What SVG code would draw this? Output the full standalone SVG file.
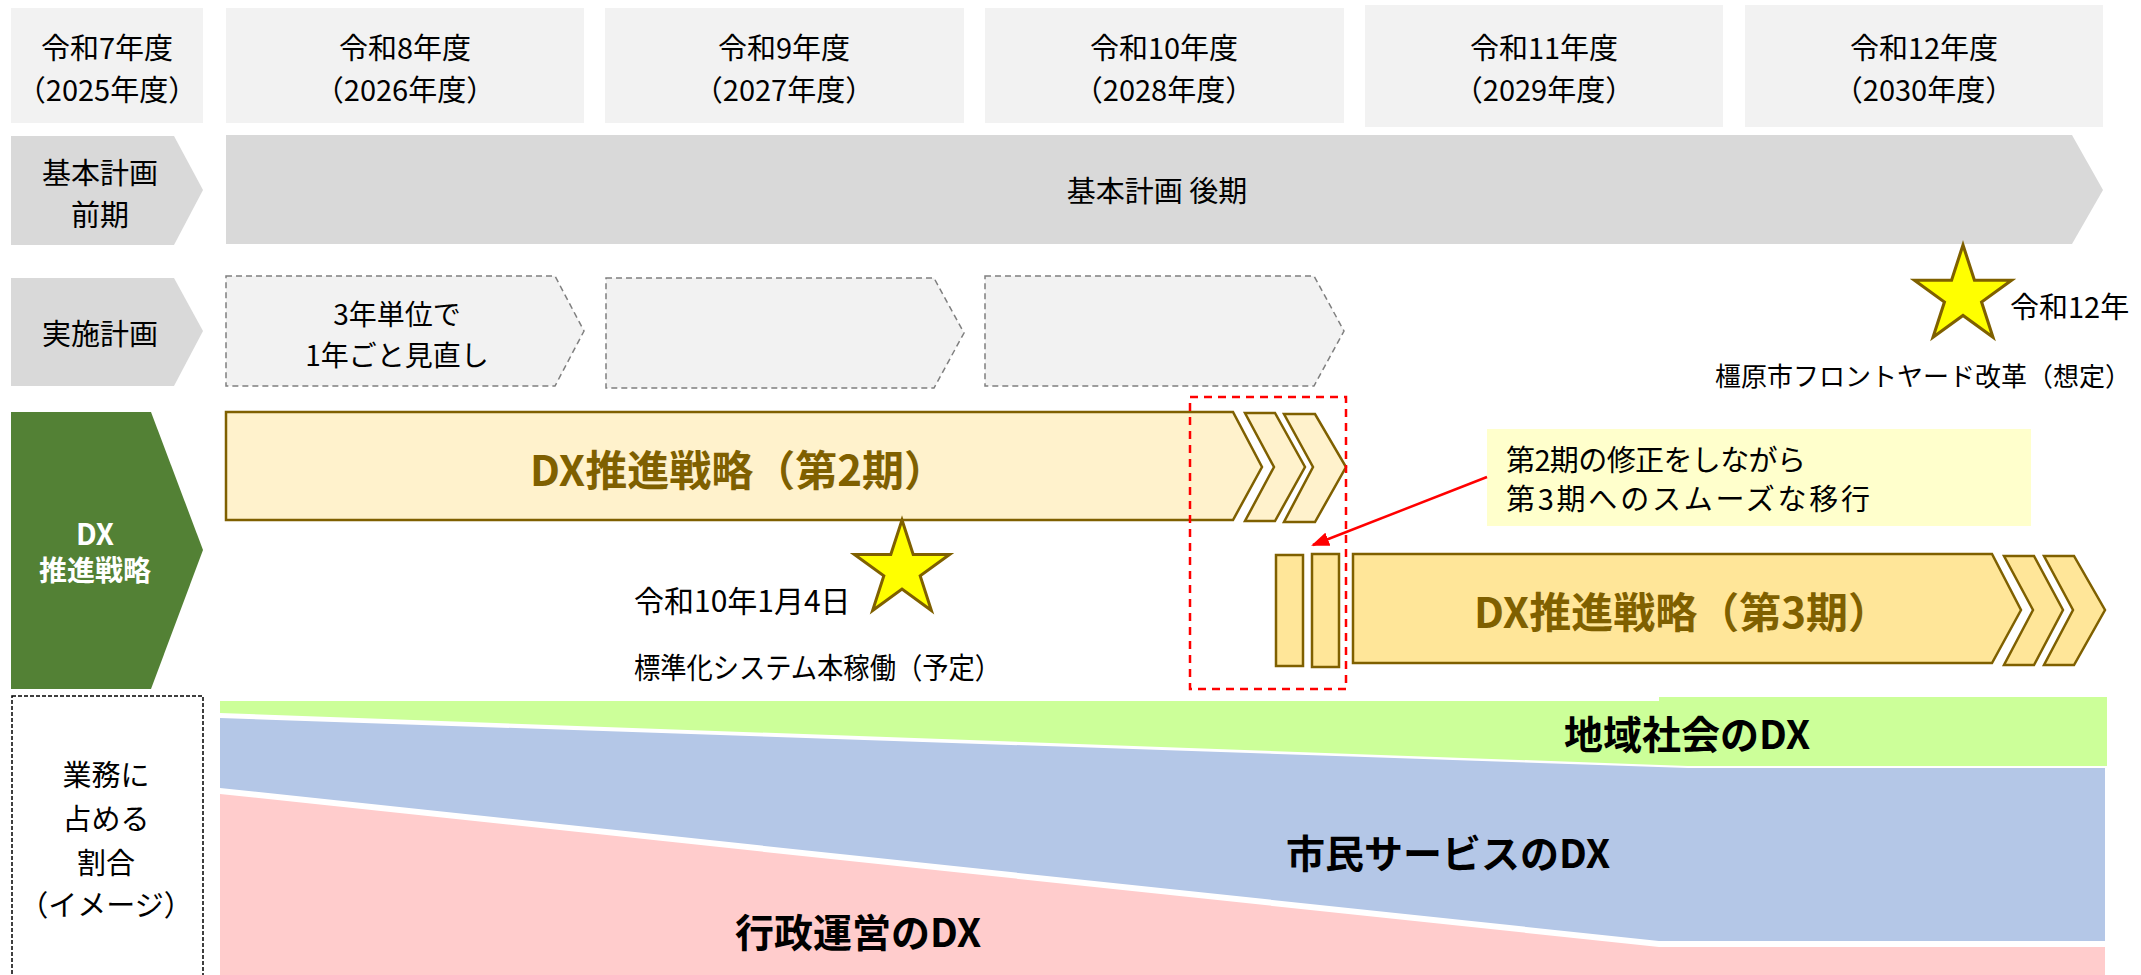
<svg xmlns="http://www.w3.org/2000/svg" xmlns:xlink="http://www.w3.org/1999/xlink" width="2141" height="975" viewBox="0 0 2141 975">
<style>
text{font-family:"Noto Sans CJK JP","Noto Sans",sans-serif;fill:#000;}
.t{font-size:29px;}
.s{font-size:28px;}
.c{text-anchor:middle;}
.b{font-weight:bold;}
.hdr{fill:#F2F2F2;}
.lbl{fill:#D9D9D9;}
.plan{fill:#F2F2F2;stroke:#7F7F7F;stroke-width:1.5;stroke-dasharray:6 4;}
.dx2{fill:#FFF2CC;stroke:#7F6000;stroke-width:2.5;}
.dx3{fill:#FFE699;stroke:#7F6000;stroke-width:2.5;}
.gold{fill:#7F6000;font-size:42px;font-weight:bold;}
.star{fill:#FFFF00;stroke:#7F6000;stroke-width:3;}
.big{font-size:39px;font-weight:bold;}
</style>
<defs>
<marker id="ah" markerWidth="18" markerHeight="14" refX="16" refY="7" orient="auto" markerUnits="userSpaceOnUse" viewBox="0 0 18 14">
<path d="M0,0 L18,7 L0,14 z" fill="#FF0000"/>
</marker>
<polygon id="starshape" points="0,-50 11.2,-15.5 47.6,-15.5 18.2,5.9 29.4,40.5 0,19.1 -29.4,40.5 -18.2,5.9 -47.6,-15.5 -11.2,-15.5"/>
</defs>

<g id="headers">
<rect class="hdr" x="11" y="8" width="192" height="115"/>
<rect class="hdr" x="226" y="8" width="358" height="115"/>
<rect class="hdr" x="605" y="8" width="359" height="115"/>
<rect class="hdr" x="985" y="8" width="359" height="115"/>
<rect class="hdr" x="1365" y="5" width="358" height="122"/>
<rect class="hdr" x="1745" y="5" width="358" height="122"/>
<text class="t c" y="59"><tspan x="107">令和7年度</tspan><tspan x="107" dy="42">（2025年度）</tspan></text>
<text class="t c" y="59"><tspan x="405">令和8年度</tspan><tspan x="405" dy="42">（2026年度）</tspan></text>
<text class="t c" y="59"><tspan x="784">令和9年度</tspan><tspan x="784" dy="42">（2027年度）</tspan></text>
<text class="t c" y="59"><tspan x="1164">令和10年度</tspan><tspan x="1164" dy="42">（2028年度）</tspan></text>
<text class="t c" y="59"><tspan x="1544">令和11年度</tspan><tspan x="1544" dy="42">（2029年度）</tspan></text>
<text class="t c" y="59"><tspan x="1924">令和12年度</tspan><tspan x="1924" dy="42">（2030年度）</tspan></text>
</g>

<g id="kihon-zenki">
<polygon class="lbl" points="11,136 174,136 203,190 174,245 11,245"/>
<text class="t c" y="184"><tspan x="100">基本計画</tspan><tspan x="100" dy="42">前期</tspan></text>
</g>

<g id="kihon-kouki">
<polygon class="lbl" points="226,135 2072,135 2103,190 2072,244 226,244"/>
<text class="t c" x="1157" y="202">基本計画 後期</text>
</g>

<g id="jisshi-label">
<polygon class="lbl" points="11,278 174,278 203,331 174,386 11,386"/>
<text class="t c" x="100" y="345">実施計画</text>
</g>

<g id="plan1">
<polygon class="plan" points="226,276 555,276 584,331 555,386 226,386"/>
<text class="s c" y="325"><tspan x="397">3年単位で</tspan><tspan x="397" dy="41">1年ごと見直し</tspan></text>
</g>
<g id="plan2">
<polygon class="plan" points="606,278 934,278 964,333 934,388 606,388"/>
</g>
<g id="plan3">
<polygon class="plan" points="985,276 1314,276 1344,331 1314,386 985,386"/>
</g>

<g id="dx-label">
<polygon fill="#538135" points="11,412 151,412 203,550 151,689 11,689"/>
<text class="b c" x="95" y="545" style="fill:#fff;font-size:29px">DX</text>
<text class="b c" x="95" y="581" style="fill:#fff;font-size:28px">推進戦略</text>
</g>

<g id="dx2">
<polygon class="dx2" points="226,412 1233,412 1262,467 1233,520 226,520"/>
<polygon class="dx2" points="1245,413 1275,413 1305,467 1275,521 1245,521 1274,467"/>
<polygon class="dx2" points="1284,414 1315,414 1346,467 1315,522 1284,522 1313,467"/>
<text class="gold c" x="738" y="486">DX推進戦略（第2期）</text>
</g>

<g id="milestone1">
<use xlink:href="#starshape" href="#starshape" class="star" transform="translate(902,570)"/>
<text style="font-size:30px" x="634" y="612">令和10年1月4日</text>
<text class="t" x="634" y="679" textLength="367" lengthAdjust="spacingAndGlyphs">標準化システム本稼働（予定）</text>
</g>

<g id="transition">
<rect x="1190" y="397" width="156" height="292" fill="none" stroke="#FF0000" stroke-width="2.5" stroke-dasharray="8 6"/>
<rect class="dx3" x="1276" y="555" width="27" height="111"/>
<rect class="dx3" x="1312" y="554" width="27" height="113"/>
</g>

<g id="dx3">
<polygon class="dx3" points="1353,554 1992,554 2021,610 1992,663 1353,663"/>
<polygon class="dx3" points="2004,556 2034,556 2063,610 2034,665 2004,665 2033,610"/>
<polygon class="dx3" points="2044,556 2074,556 2105,610 2074,665 2044,665 2073,610"/>
<text class="gold c" x="1682" y="628">DX推進戦略（第3期）</text>
</g>

<g id="callout">
<rect x="1487" y="429" width="544" height="97" fill="#FFFFCC"/>
<text class="t" x="1506" y="471" textLength="300">第2期の修正をしながら</text>
<text class="t" x="1506" y="510" textLength="364">第3期へのスムーズな移行</text>
</g>

<g id="milestone2">
<use xlink:href="#starshape" href="#starshape" class="star" transform="translate(1963,296) scale(1.02)"/>
<text class="t" x="2010" y="318">令和12年</text>
<text style="font-size:26px" x="1715" y="386">橿原市フロントヤード改革（想定）</text>
</g>

<g id="share-label">
<rect x="12" y="696" width="191" height="290" fill="none" stroke="#000" stroke-width="1.5" stroke-dasharray="4 2"/>
<text class="t c" x="106" y="786">業務に</text>
<text class="t c" x="106" y="830">占める</text>
<text class="t c" x="106" y="874">割合</text>
<text class="t c" x="106" y="916">（イメージ）</text>
</g>

<g id="area-chart">
<polygon fill="#CCFF99" points="220,701 1659,701 1659,697 2107,697 2107,766 1688,766 220,713"/>
<polygon fill="#B4C7E7" points="220,718 1688,768 2105,768 2105,941 1659,941 220,788"/>
<polygon fill="#FFCCCC" points="220,794 1659,947 2105,947 2105,975 220,975"/>
<text class="big c" x="1687" y="749">地域社会のDX</text>
<text class="big c" x="1448" y="868">市民サービスのDX</text>
<text class="big c" x="858" y="947">行政運営のDX</text>
</g>

<g id="connectors">
<line x1="1487" y1="477" x2="1313" y2="545" stroke="#FF0000" stroke-width="2.5" marker-end="url(#ah)"/>
</g>
</svg>
